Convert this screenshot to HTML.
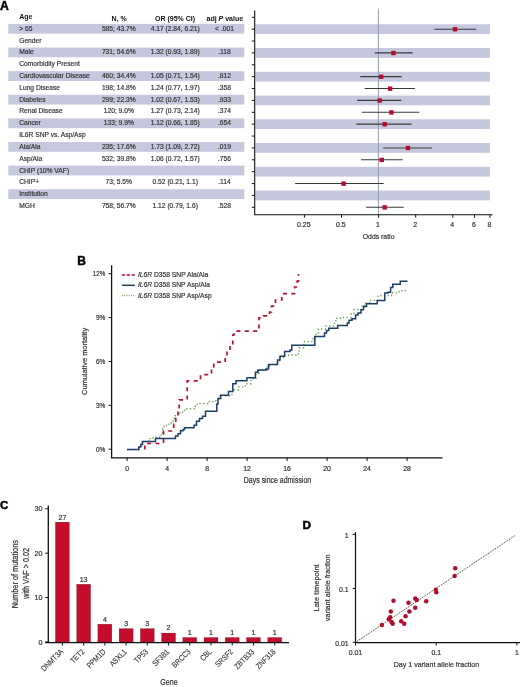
<!DOCTYPE html>
<html><head><meta charset="utf-8"><style>
html,body{margin:0;padding:0;background:#fff;overflow:hidden;}
svg{display:block;font-family:"Liberation Sans", sans-serif;will-change:transform;}
</style></head><body>
<svg width="520" height="687" viewBox="0 0 520 687">
<rect width="520" height="687" fill="#fff"/>
<text x="0" y="10.4" font-size="12.2" font-weight="bold" fill="#000" stroke="#000" stroke-width="0.45">A</text>
<rect x="8.3" y="23.90" width="236" height="9.8" fill="#c6c8de"/>
<rect x="255.5" y="24.27" width="234.5" height="9.8" fill="#c6c8de"/>
<rect x="8.3" y="47.52" width="236" height="9.8" fill="#c6c8de"/>
<rect x="255.5" y="48.02" width="234.5" height="9.8" fill="#c6c8de"/>
<rect x="8.3" y="71.14" width="236" height="9.8" fill="#c6c8de"/>
<rect x="255.5" y="71.77" width="234.5" height="9.8" fill="#c6c8de"/>
<rect x="8.3" y="94.76" width="236" height="9.8" fill="#c6c8de"/>
<rect x="255.5" y="95.52" width="234.5" height="9.8" fill="#c6c8de"/>
<rect x="8.3" y="118.38" width="236" height="9.8" fill="#c6c8de"/>
<rect x="255.5" y="119.27" width="234.5" height="9.8" fill="#c6c8de"/>
<rect x="8.3" y="142.00" width="236" height="9.8" fill="#c6c8de"/>
<rect x="255.5" y="143.03" width="234.5" height="9.8" fill="#c6c8de"/>
<rect x="8.3" y="165.62" width="236" height="9.8" fill="#c6c8de"/>
<rect x="255.5" y="166.78" width="234.5" height="9.8" fill="#c6c8de"/>
<rect x="8.3" y="189.24" width="236" height="9.8" fill="#c6c8de"/>
<rect x="255.5" y="190.53" width="234.5" height="9.8" fill="#c6c8de"/>
<g font-size="7" font-weight="bold" fill="#111">
<text x="19.2" y="18.70">Age</text>
<text x="119.2" y="20.60" text-anchor="middle">N, %</text>
<text x="175" y="20.60" text-anchor="middle">OR (95% CI)</text>
<text x="224.8" y="20.60" text-anchor="middle">adj <tspan font-style="italic">P</tspan> value</text>
</g>
<g font-size="6.7" fill="#333" stroke="#333" stroke-width="0.18">
<text x="19.2" y="30.80">&gt; 65</text>
<text x="118.8" y="30.80" text-anchor="middle">585; 43.7%</text>
<text x="175.2" y="30.80" text-anchor="middle">4.17 (2.84, 6.21)</text>
<text x="224.5" y="30.80" text-anchor="middle">&lt; .001</text>
<text x="19.2" y="42.61">Gender</text>
<text x="19.2" y="54.42">Male</text>
<text x="118.8" y="54.42" text-anchor="middle">731; 54.6%</text>
<text x="175.2" y="54.42" text-anchor="middle">1.32 (0.93, 1.89)</text>
<text x="224.5" y="54.42" text-anchor="middle">.118</text>
<text x="19.2" y="66.23">Comorbidity Present</text>
<text x="19.2" y="78.04">Cardiovascular Disease</text>
<text x="118.8" y="78.04" text-anchor="middle">460; 34.4%</text>
<text x="175.2" y="78.04" text-anchor="middle">1.05 (0.71, 1.54)</text>
<text x="224.5" y="78.04" text-anchor="middle">.812</text>
<text x="19.2" y="89.85">Lung Disease</text>
<text x="118.8" y="89.85" text-anchor="middle">198; 14.8%</text>
<text x="175.2" y="89.85" text-anchor="middle">1.24 (0.77, 1.97)</text>
<text x="224.5" y="89.85" text-anchor="middle">.358</text>
<text x="19.2" y="101.66">Diabetes</text>
<text x="118.8" y="101.66" text-anchor="middle">299; 22.3%</text>
<text x="175.2" y="101.66" text-anchor="middle">1.02 (0.67, 1.53)</text>
<text x="224.5" y="101.66" text-anchor="middle">.933</text>
<text x="19.2" y="113.47">Renal Disease</text>
<text x="118.8" y="113.47" text-anchor="middle">120; 9.0%</text>
<text x="175.2" y="113.47" text-anchor="middle">1.27 (0.73, 2.14)</text>
<text x="224.5" y="113.47" text-anchor="middle">.374</text>
<text x="19.2" y="125.28">Cancer</text>
<text x="118.8" y="125.28" text-anchor="middle">133; 9.9%</text>
<text x="175.2" y="125.28" text-anchor="middle">1.12 (0.66, 1.85)</text>
<text x="224.5" y="125.28" text-anchor="middle">.654</text>
<text x="19.2" y="137.09">IL6R SNP vs. Asp/Asp</text>
<text x="19.2" y="148.90">Ala/Ala</text>
<text x="118.8" y="148.90" text-anchor="middle">235; 17.6%</text>
<text x="175.2" y="148.90" text-anchor="middle">1.73 (1.09, 2.72)</text>
<text x="224.5" y="148.90" text-anchor="middle">.019</text>
<text x="19.2" y="160.71">Asp/Ala</text>
<text x="118.8" y="160.71" text-anchor="middle">532; 39.8%</text>
<text x="175.2" y="160.71" text-anchor="middle">1.06 (0.72, 1.57)</text>
<text x="224.5" y="160.71" text-anchor="middle">.756</text>
<text x="19.2" y="172.52">CHIP (10% VAF)</text>
<text x="19.2" y="184.33">CHIP+</text>
<text x="118.8" y="184.33" text-anchor="middle">73; 5.5%</text>
<text x="175.2" y="184.33" text-anchor="middle">0.52 (0.21, 1.1)</text>
<text x="224.5" y="184.33" text-anchor="middle">.114</text>
<text x="19.2" y="196.14">Institution</text>
<text x="19.2" y="207.95">MGH</text>
<text x="118.8" y="207.95" text-anchor="middle">758; 56.7%</text>
<text x="175.2" y="207.95" text-anchor="middle">1.12 (0.79, 1.6)</text>
<text x="224.5" y="207.95" text-anchor="middle">.528</text>
</g>
<line x1="378.4" y1="8.7" x2="378.4" y2="214.7" stroke="#8a8ea6" stroke-width="0.9"/>
<path d="M254.7 10.4 V214.7 H492.6" fill="none" stroke="#111" stroke-width="1.1"/>
<line x1="251.8" y1="17.30" x2="254.7" y2="17.30" stroke="#111" stroke-width="1"/>
<line x1="251.8" y1="29.18" x2="254.7" y2="29.18" stroke="#111" stroke-width="1"/>
<line x1="251.8" y1="41.05" x2="254.7" y2="41.05" stroke="#111" stroke-width="1"/>
<line x1="251.8" y1="52.92" x2="254.7" y2="52.92" stroke="#111" stroke-width="1"/>
<line x1="251.8" y1="64.80" x2="254.7" y2="64.80" stroke="#111" stroke-width="1"/>
<line x1="251.8" y1="76.67" x2="254.7" y2="76.67" stroke="#111" stroke-width="1"/>
<line x1="251.8" y1="88.55" x2="254.7" y2="88.55" stroke="#111" stroke-width="1"/>
<line x1="251.8" y1="100.42" x2="254.7" y2="100.42" stroke="#111" stroke-width="1"/>
<line x1="251.8" y1="112.30" x2="254.7" y2="112.30" stroke="#111" stroke-width="1"/>
<line x1="251.8" y1="124.17" x2="254.7" y2="124.17" stroke="#111" stroke-width="1"/>
<line x1="251.8" y1="136.05" x2="254.7" y2="136.05" stroke="#111" stroke-width="1"/>
<line x1="251.8" y1="147.93" x2="254.7" y2="147.93" stroke="#111" stroke-width="1"/>
<line x1="251.8" y1="159.80" x2="254.7" y2="159.80" stroke="#111" stroke-width="1"/>
<line x1="251.8" y1="171.68" x2="254.7" y2="171.68" stroke="#111" stroke-width="1"/>
<line x1="251.8" y1="183.55" x2="254.7" y2="183.55" stroke="#111" stroke-width="1"/>
<line x1="251.8" y1="195.43" x2="254.7" y2="195.43" stroke="#111" stroke-width="1"/>
<line x1="251.8" y1="207.30" x2="254.7" y2="207.30" stroke="#111" stroke-width="1"/>
<g font-size="6.9" fill="#333" text-anchor="middle" stroke="#333" stroke-width="0.2">
<line x1="304.40" y1="214.7" x2="304.40" y2="217.7" stroke="#111" stroke-width="1"/>
<text x="303.80" y="227.1">0.25</text>
<line x1="341.50" y1="214.7" x2="341.50" y2="217.7" stroke="#111" stroke-width="1"/>
<text x="340.90" y="227.1">0.5</text>
<line x1="378.60" y1="214.7" x2="378.60" y2="217.7" stroke="#111" stroke-width="1"/>
<text x="378.00" y="227.1">1</text>
<line x1="415.70" y1="214.7" x2="415.70" y2="217.7" stroke="#111" stroke-width="1"/>
<text x="415.10" y="227.1">2</text>
<line x1="452.80" y1="214.7" x2="452.80" y2="217.7" stroke="#111" stroke-width="1"/>
<text x="452.20" y="227.1">4</text>
<line x1="474.50" y1="214.7" x2="474.50" y2="217.7" stroke="#111" stroke-width="1"/>
<text x="473.90" y="227.1">6</text>
<line x1="489.90" y1="214.7" x2="489.90" y2="217.7" stroke="#111" stroke-width="1"/>
<text x="489.30" y="227.1">8</text>
<text x="378.6" y="239.3" font-size="8" textLength="31.7" lengthAdjust="spacingAndGlyphs">Odds ratio</text>
</g>
<line x1="434.47" y1="29.18" x2="476.34" y2="29.18" stroke="#3a3a3a" stroke-width="1.1"/>
<rect x="452.83" y="27.07" width="4.4" height="4.4" fill="#b20c32"/>
<line x1="374.72" y1="52.92" x2="412.67" y2="52.92" stroke="#3a3a3a" stroke-width="1.1"/>
<rect x="391.26" y="50.82" width="4.4" height="4.4" fill="#b20c32"/>
<line x1="360.27" y1="76.67" x2="401.71" y2="76.67" stroke="#3a3a3a" stroke-width="1.1"/>
<rect x="379.01" y="74.58" width="4.4" height="4.4" fill="#b20c32"/>
<line x1="364.61" y1="88.55" x2="414.89" y2="88.55" stroke="#3a3a3a" stroke-width="1.1"/>
<rect x="387.91" y="86.45" width="4.4" height="4.4" fill="#b20c32"/>
<line x1="357.16" y1="100.42" x2="401.36" y2="100.42" stroke="#3a3a3a" stroke-width="1.1"/>
<rect x="377.46" y="98.33" width="4.4" height="4.4" fill="#b20c32"/>
<line x1="361.76" y1="112.30" x2="419.32" y2="112.30" stroke="#3a3a3a" stroke-width="1.1"/>
<rect x="389.19" y="110.20" width="4.4" height="4.4" fill="#b20c32"/>
<line x1="356.36" y1="124.17" x2="411.53" y2="124.17" stroke="#3a3a3a" stroke-width="1.1"/>
<rect x="382.47" y="122.08" width="4.4" height="4.4" fill="#b20c32"/>
<line x1="383.21" y1="147.93" x2="432.16" y2="147.93" stroke="#3a3a3a" stroke-width="1.1"/>
<rect x="405.74" y="145.83" width="4.4" height="4.4" fill="#b20c32"/>
<line x1="361.02" y1="159.80" x2="402.74" y2="159.80" stroke="#3a3a3a" stroke-width="1.1"/>
<rect x="379.52" y="157.70" width="4.4" height="4.4" fill="#b20c32"/>
<line x1="295.07" y1="183.55" x2="383.70" y2="183.55" stroke="#3a3a3a" stroke-width="1.1"/>
<rect x="341.40" y="181.45" width="4.4" height="4.4" fill="#b20c32"/>
<line x1="365.98" y1="207.30" x2="403.76" y2="207.30" stroke="#3a3a3a" stroke-width="1.1"/>
<rect x="382.47" y="205.20" width="4.4" height="4.4" fill="#b20c32"/>
<text x="77.3" y="264.8" font-size="12" font-weight="bold" fill="#000" stroke="#000" stroke-width="0.45">B</text>
<path d="M111.6 265.2 V457.8 H442.5" fill="none" stroke="#111" stroke-width="1.3"/>
<g font-size="6.8" fill="#333" text-anchor="end" stroke="#333" stroke-width="0.2">
<line x1="108.6" y1="449.20" x2="111.7" y2="449.20" stroke="#111" stroke-width="1"/>
<text x="105.2" y="451.60" textLength="9.3" lengthAdjust="spacingAndGlyphs">0%</text>
<line x1="108.6" y1="405.32" x2="111.7" y2="405.32" stroke="#111" stroke-width="1"/>
<text x="105.2" y="407.72" textLength="9.3" lengthAdjust="spacingAndGlyphs">3%</text>
<line x1="108.6" y1="361.45" x2="111.7" y2="361.45" stroke="#111" stroke-width="1"/>
<text x="105.2" y="363.85" textLength="9.3" lengthAdjust="spacingAndGlyphs">6%</text>
<line x1="108.6" y1="317.57" x2="111.7" y2="317.57" stroke="#111" stroke-width="1"/>
<text x="105.2" y="319.97" textLength="9.3" lengthAdjust="spacingAndGlyphs">9%</text>
<line x1="108.6" y1="273.70" x2="111.7" y2="273.70" stroke="#111" stroke-width="1"/>
<text x="105.2" y="276.10" textLength="12.4" lengthAdjust="spacingAndGlyphs">12%</text>
</g>
<g font-size="6.9" fill="#333" text-anchor="middle" stroke="#333" stroke-width="0.2">
<line x1="127.10" y1="457.8" x2="127.10" y2="461" stroke="#111" stroke-width="1"/>
<text x="127.10" y="471">0</text>
<line x1="167.10" y1="457.8" x2="167.10" y2="461" stroke="#111" stroke-width="1"/>
<text x="167.10" y="471">4</text>
<line x1="207.10" y1="457.8" x2="207.10" y2="461" stroke="#111" stroke-width="1"/>
<text x="207.10" y="471">8</text>
<line x1="247.10" y1="457.8" x2="247.10" y2="461" stroke="#111" stroke-width="1"/>
<text x="247.10" y="471">12</text>
<line x1="287.10" y1="457.8" x2="287.10" y2="461" stroke="#111" stroke-width="1"/>
<text x="287.10" y="471">16</text>
<line x1="327.10" y1="457.8" x2="327.10" y2="461" stroke="#111" stroke-width="1"/>
<text x="327.10" y="471">20</text>
<line x1="367.10" y1="457.8" x2="367.10" y2="461" stroke="#111" stroke-width="1"/>
<text x="367.10" y="471">24</text>
<line x1="407.10" y1="457.8" x2="407.10" y2="461" stroke="#111" stroke-width="1"/>
<text x="407.10" y="471">28</text>
<text x="277.5" y="483.3" font-size="8.3" textLength="67.3" lengthAdjust="spacingAndGlyphs">Days since admission</text>
<text transform="translate(86.6 361.4) rotate(-90)" x="0" y="0" font-size="8.1" textLength="67" lengthAdjust="spacingAndGlyphs">Cumulative mortality</text>
</g>
<path d="M127.1 449.6 H138.8 V446.9 H140.8 V444.6 H142.5 V441.5 H149 V438.6 H153 V437.2 H161.2 V433.5 H162.5 V429 H164 V426.5 H166.5 V424.6 H169 V423 H171 V421 H173 V418.5 H175 V415.8 H177.7 V413 H182.7 V410.4 H185.4 V408.8 H195.4 V406.2 H197.3 V403.5 H207.7 V401.7 H215.8 V399.7 H221.1 V395.7 H231.9 V391.6 H234.6 V389.8 H238.6 V386.9 H245.4 V383.8 H251 V379 H256 V373.2 H259 V370.4 H267 V366 H269.5 V364.6 H277.5 V361.5 H279.5 V357.5 H284.3 V355.2 H290 V355 H296.2 V353.8 H299.2 V347.7 H303.8 V341.5 H313 V337.5 H316 V333 H318.5 V329 H326 V326 H334.5 V322 H335.8 V318.3 H340.4 V317.5 H351.1 V313.6 H353.8 V309.5 H361.9 V305.5 H364.6 V302.8 H369.8 V300.4 H377.9 V295.6 H391.5 V292.8 H399 V291.9 H402 V290.5 H407.5" fill="none" stroke="#6e9e58" stroke-width="1.4" stroke-dasharray="1.3 2.4"/>
<path d="M127.1 449.6 H138.8 V446.9 H140.8 V444.6 H142.5 V441.5 H155.5 V438.6 H175.5 V436 H178 V433.7 H180.5 V430.8 H183 V429.6 H184.5 V427.7 H194 V425.2 H196.5 V421.3 H199.5 V418.5 H202.5 V416.2 H205.5 V411.2 H216.8 V404 H218 V398.5 H220.5 V395.3 H228.5 V391.6 H232.8 V383.8 H236 V380.8 H246.9 V377.7 H255.4 V372.3 H258 V370 H266 V369 H268.5 V364.6 H277.5 V360 H280 V356.2 H284.6 V351.5 H290 V350 H291.8 V345.2 H314.8 V336.4 H324.5 V333 H326.5 V330.4 H328.8 V328.2 H337.7 V325.6 H347.3 V323 H349 V320.3 H352 V318.8 H355.6 V314.9 H358 V312.9 H361 V309.8 H363.5 V306.4 H366.5 V303.7 H377.2 V300.4 H384.8 V293 H388 V292.3 H390.6 V287.6 H392.8 V284.2 H400.3 V281.3 H407.5" fill="none" stroke="#1c3e64" stroke-width="1.5"/>
<path d="M144.8 449.6 V443.5 H163.5 V431 H173.7 V424.2 H175.8 V418.5 H178 V412.3 H179.2 V399.8 H187.2 V380.9 H200.5 V374.6 H211.5 V369 H213.8 V362.2 H225.2 V356 H227 V350 H230 V345 H232.8 V335 H234 V331.2 H259 V317.8 H263.5 V315.8 H269.6 V312 H271.5 V306.2 H275.4 V300 H281.8 V293.7 H294.6 V287 H297.2 V281.2 H298.5 V274" fill="none" stroke="#b8102f" stroke-width="1.7" stroke-dasharray="4 4.4"/>
<line x1="121.8" y1="275.1" x2="134.8" y2="275.1" stroke="#b8102f" stroke-width="1.5" stroke-dasharray="3.4 1.5"/>
<line x1="121.8" y1="285.3" x2="134.8" y2="285.3" stroke="#1c3e64" stroke-width="1.5"/>
<line x1="121.8" y1="295.5" x2="134.8" y2="295.5" stroke="#7fb070" stroke-width="1.3" stroke-dasharray="1.1 1.2"/>
<g font-size="7.1" fill="#333" stroke="#333" stroke-width="0.2">
<text x="138.0" y="277.10" textLength="70.2" lengthAdjust="spacingAndGlyphs"><tspan font-style="italic">IL6R</tspan> D358 SNP Ala/Ala</text>
<text x="138.0" y="287.30" textLength="72" lengthAdjust="spacingAndGlyphs"><tspan font-style="italic">IL6R</tspan> D358 SNP Asp/Ala</text>
<text x="138.0" y="297.50" textLength="73.6" lengthAdjust="spacingAndGlyphs"><tspan font-style="italic">IL6R</tspan> D358 SNP Asp/Asp</text>
</g>
<text x="0.1" y="508.9" font-size="11.6" font-weight="bold" fill="#000" stroke="#000" stroke-width="0.45">C</text>
<path d="M48.3 505.6 V642.6 H289 M45.2 642.6 H48.3" fill="none" stroke="#111" stroke-width="1.3"/>
<g font-size="7.2" fill="#333" text-anchor="end" stroke="#333" stroke-width="0.2">
<line x1="45.2" y1="641.90" x2="48.3" y2="641.90" stroke="#111" stroke-width="1"/>
<text x="42.5" y="644.50">0</text>
<line x1="45.2" y1="597.53" x2="48.3" y2="597.53" stroke="#111" stroke-width="1"/>
<text x="42.5" y="600.13">10</text>
<line x1="45.2" y1="553.16" x2="48.3" y2="553.16" stroke="#111" stroke-width="1"/>
<text x="42.5" y="555.76">20</text>
<line x1="45.2" y1="508.79" x2="48.3" y2="508.79" stroke="#111" stroke-width="1"/>
<text x="42.5" y="511.39">30</text>
</g>
<g font-size="7" fill="#333" stroke="#333" stroke-width="0.2">
<rect x="55.40" y="522.10" width="14" height="119.90" fill="#c40c2c"/>
<line x1="62.40" y1="642.5" x2="62.40" y2="645.5" stroke="#111" stroke-width="1"/>
<text x="62.40" y="519.50" text-anchor="middle">27</text>
<text transform="translate(61.80 650.3) rotate(-45) scale(0.84 1)" text-anchor="end" font-size="8" x="0" y="2.8" stroke-width="0.1">DNMT3A</text>
<rect x="76.63" y="584.22" width="14" height="57.78" fill="#c40c2c"/>
<line x1="83.63" y1="642.5" x2="83.63" y2="645.5" stroke="#111" stroke-width="1"/>
<text x="83.63" y="581.62" text-anchor="middle">13</text>
<text transform="translate(83.03 650.3) rotate(-45) scale(0.84 1)" text-anchor="end" font-size="8" x="0" y="2.8" stroke-width="0.1">TET2</text>
<rect x="97.86" y="624.15" width="14" height="17.85" fill="#c40c2c"/>
<line x1="104.86" y1="642.5" x2="104.86" y2="645.5" stroke="#111" stroke-width="1"/>
<text x="104.86" y="621.55" text-anchor="middle">4</text>
<text transform="translate(104.26 650.3) rotate(-45) scale(0.84 1)" text-anchor="end" font-size="8" x="0" y="2.8" stroke-width="0.1">PPM1D</text>
<rect x="119.09" y="628.59" width="14" height="13.41" fill="#c40c2c"/>
<line x1="126.09" y1="642.5" x2="126.09" y2="645.5" stroke="#111" stroke-width="1"/>
<text x="126.09" y="625.99" text-anchor="middle">3</text>
<text transform="translate(125.49 650.3) rotate(-45) scale(0.84 1)" text-anchor="end" font-size="8" x="0" y="2.8" stroke-width="0.1">ASXL1</text>
<rect x="140.32" y="628.59" width="14" height="13.41" fill="#c40c2c"/>
<line x1="147.32" y1="642.5" x2="147.32" y2="645.5" stroke="#111" stroke-width="1"/>
<text x="147.32" y="625.99" text-anchor="middle">3</text>
<text transform="translate(146.72 650.3) rotate(-45) scale(0.84 1)" text-anchor="end" font-size="8" x="0" y="2.8" stroke-width="0.1">TP53</text>
<rect x="161.55" y="633.03" width="14" height="8.97" fill="#c40c2c"/>
<line x1="168.55" y1="642.5" x2="168.55" y2="645.5" stroke="#111" stroke-width="1"/>
<text x="168.55" y="630.43" text-anchor="middle">2</text>
<text transform="translate(167.95 650.3) rotate(-45) scale(0.84 1)" text-anchor="end" font-size="8" x="0" y="2.8" stroke-width="0.1">SF3B1</text>
<rect x="182.78" y="637.46" width="14" height="4.54" fill="#c40c2c"/>
<line x1="189.78" y1="642.5" x2="189.78" y2="645.5" stroke="#111" stroke-width="1"/>
<text x="189.78" y="634.86" text-anchor="middle">1</text>
<text transform="translate(189.18 650.3) rotate(-45) scale(0.84 1)" text-anchor="end" font-size="8" x="0" y="2.8" stroke-width="0.1">BRCC3</text>
<rect x="204.01" y="637.46" width="14" height="4.54" fill="#c40c2c"/>
<line x1="211.01" y1="642.5" x2="211.01" y2="645.5" stroke="#111" stroke-width="1"/>
<text x="211.01" y="634.86" text-anchor="middle">1</text>
<text transform="translate(210.41 650.3) rotate(-45) scale(0.84 1)" text-anchor="end" font-size="8" x="0" y="2.8" stroke-width="0.1">CBL</text>
<rect x="225.24" y="637.46" width="14" height="4.54" fill="#c40c2c"/>
<line x1="232.24" y1="642.5" x2="232.24" y2="645.5" stroke="#111" stroke-width="1"/>
<text x="232.24" y="634.86" text-anchor="middle">1</text>
<text transform="translate(231.64 650.3) rotate(-45) scale(0.84 1)" text-anchor="end" font-size="8" x="0" y="2.8" stroke-width="0.1">SRSF2</text>
<rect x="246.47" y="637.46" width="14" height="4.54" fill="#c40c2c"/>
<line x1="253.47" y1="642.5" x2="253.47" y2="645.5" stroke="#111" stroke-width="1"/>
<text x="253.47" y="634.86" text-anchor="middle">1</text>
<text transform="translate(252.87 650.3) rotate(-45) scale(0.84 1)" text-anchor="end" font-size="8" x="0" y="2.8" stroke-width="0.1">ZBTB33</text>
<rect x="267.70" y="637.46" width="14" height="4.54" fill="#c40c2c"/>
<line x1="274.70" y1="642.5" x2="274.70" y2="645.5" stroke="#111" stroke-width="1"/>
<text x="274.70" y="634.86" text-anchor="middle">1</text>
<text transform="translate(274.10 650.3) rotate(-45) scale(0.84 1)" text-anchor="end" font-size="8" x="0" y="2.8" stroke-width="0.1">ZNF318</text>
</g>
<text x="169" y="684.6" font-size="8.2" fill="#333" stroke="#333" stroke-width="0.2" text-anchor="middle" textLength="17.3" lengthAdjust="spacingAndGlyphs">Gene</text>
<g font-size="8.2" fill="#333" text-anchor="middle" stroke="#333" stroke-width="0.2">
<text transform="translate(18.2 574.2) rotate(-90)" textLength="68.2" lengthAdjust="spacingAndGlyphs">Number of mutations</text>
<text transform="translate(28.9 573.4) rotate(-90)" textLength="50.7" lengthAdjust="spacingAndGlyphs">with VAF &gt; 0.02</text>
</g>
<text x="302.4" y="528.5" font-size="11.8" font-weight="bold" fill="#000" stroke="#000" stroke-width="0.45">D</text>
<line x1="355.5" y1="642.4" x2="515" y2="535.6" stroke="#333" stroke-width="1" stroke-dasharray="1.1 1"/>
<path d="M355.5 532 V642.6 H520" fill="none" stroke="#111" stroke-width="1.2"/>
<g font-size="6.9" fill="#333" stroke="#333" stroke-width="0.2">
<line x1="352.7" y1="642.40" x2="355.5" y2="642.40" stroke="#111" stroke-width="1"/>
<text x="348.7" y="645.50" text-anchor="end">0.01</text>
<line x1="355.50" y1="642.6" x2="355.50" y2="645.5" stroke="#111" stroke-width="1"/>
<text x="355.50" y="654.5" text-anchor="middle">0.01</text>
<line x1="352.7" y1="588.40" x2="355.5" y2="588.40" stroke="#111" stroke-width="1"/>
<text x="348.7" y="591.50" text-anchor="end">0.1</text>
<line x1="436.20" y1="642.6" x2="436.20" y2="645.5" stroke="#111" stroke-width="1"/>
<text x="436.20" y="654.5" text-anchor="middle">0.1</text>
<line x1="352.7" y1="534.40" x2="355.5" y2="534.40" stroke="#111" stroke-width="1"/>
<text x="348.7" y="537.50" text-anchor="end">1</text>
<line x1="516.90" y1="642.6" x2="516.90" y2="645.5" stroke="#111" stroke-width="1"/>
<text x="516.90" y="654.5" text-anchor="middle">1</text>
<text x="436.4" y="667.4" font-size="8.1" text-anchor="middle" textLength="85.4" lengthAdjust="spacingAndGlyphs">Day 1 variant allele fraction</text>
<text transform="translate(318.8 587.9) rotate(-90)" font-size="7.8" text-anchor="middle" textLength="47.2" lengthAdjust="spacingAndGlyphs">Late timepoint</text>
<text transform="translate(330.4 587.8) rotate(-90)" font-size="7.4" text-anchor="middle" textLength="66.9" lengthAdjust="spacingAndGlyphs">variant allele fraction</text>
</g>
<circle cx="381.9" cy="625" r="2.25" fill="#b00e2c"/>
<circle cx="393.5" cy="600.8" r="2.25" fill="#b00e2c"/>
<circle cx="390.8" cy="611.5" r="2.25" fill="#b00e2c"/>
<circle cx="390.2" cy="617.3" r="2.25" fill="#b00e2c"/>
<circle cx="388.8" cy="619.2" r="2.25" fill="#b00e2c"/>
<circle cx="391.5" cy="621.9" r="2.25" fill="#b00e2c"/>
<circle cx="392.7" cy="623.8" r="2.25" fill="#b00e2c"/>
<circle cx="401.2" cy="621.2" r="2.25" fill="#b00e2c"/>
<circle cx="404.2" cy="623.8" r="2.25" fill="#b00e2c"/>
<circle cx="405.6" cy="616.2" r="2.25" fill="#b00e2c"/>
<circle cx="409.4" cy="611.5" r="2.25" fill="#b00e2c"/>
<circle cx="408.5" cy="602.7" r="2.25" fill="#b00e2c"/>
<circle cx="415.2" cy="607.7" r="2.25" fill="#b00e2c"/>
<circle cx="415.2" cy="598.5" r="2.25" fill="#b00e2c"/>
<circle cx="416.7" cy="600" r="2.25" fill="#b00e2c"/>
<circle cx="426.2" cy="601.2" r="2.25" fill="#b00e2c"/>
<circle cx="435.8" cy="589.8" r="2.25" fill="#b00e2c"/>
<circle cx="436.3" cy="592.3" r="2.25" fill="#b00e2c"/>
<circle cx="454.6" cy="576" r="2.25" fill="#b00e2c"/>
<circle cx="455.2" cy="568.3" r="2.25" fill="#b00e2c"/>
</svg></body></html>
